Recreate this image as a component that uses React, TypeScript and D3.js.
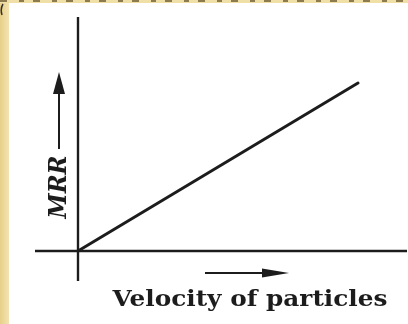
import React from "react";
import * as d3 from "d3";

// Velocity of abrasive particles vs. material removal rate
const velocity = [0, 10];
const mrr = [0, 6];
const xLabel = "Velocity of particles";
const yLabel = "MRR";

const W = 408;
const H = 324;

export default function App() {
  const x = d3.scaleLinear().domain([0, 10]).range([78, 358]);
  const y = d3.scaleLinear().domain([0, 6]).range([251, 83]);

  const pts: [number, number][] = velocity.map((v, i) => [x(v), y(mrr[i])]);
  const line = d3.line<[number, number]>()(pts) ?? "";

  const x0 = x(0);
  const y0 = y(0);
  const ink = "#1e1e1e";

  return (
    <svg
      width={W}
      height={H}
      style={{ position: "absolute", left: 0, top: 0, background: "#ffffff" }}
    >
      <defs>
        <linearGradient id="edge" x1="0" x2="1" y1="0" y2="0">
          <stop offset="0" stopColor="#e6cf88" />
          <stop offset="1" stopColor="#f4e4b2" />
        </linearGradient>
        <filter id="soft" x="-5%" y="-5%" width="110%" height="110%">
          <feGaussianBlur stdDeviation="0.55" />
        </filter>
      </defs>

      {/* page frame */}
      <rect x={0} y={0} width={W} height={H} fill="#ffffff" />
      <rect x={0} y={0} width={9} height={H} fill="url(#edge)" />
      <rect x={0} y={0} width={W} height={3} fill="#f1dfa8" />
      <line
        x1={0}
        x2={W}
        y1={1}
        y2={1}
        stroke="#6a5a30"
        strokeWidth={2}
        strokeDasharray="7 12 5 9"
        opacity={0.75}
      />
      <path d="M3,4 Q0,9 2,15" stroke="#333" strokeWidth={1.5} fill="none" />

      <g filter="url(#soft)">
        {/* axes */}
        <line x1={x0} x2={x0} y1={17} y2={281} stroke={ink} strokeWidth={2.4} />
        <line x1={35} x2={407} y1={y0} y2={y0} stroke={ink} strokeWidth={2.4} />

        {/* relation line */}
        <path d={line} stroke={ink} strokeWidth={3} fill="none" strokeLinecap="round" />

        {/* y label with arrow */}
        <line x1={59} x2={59} y1={92} y2={149} stroke={ink} strokeWidth={2} />
        <path d="M59,72 L53,94 L65,94 Z" fill={ink} />
        <text
          transform="translate(66,187) rotate(-90)"
          textAnchor="middle"
          fontFamily="DejaVu Serif"
          fontStyle="italic"
          fontWeight="bold"
          fontSize={24}
          textLength={63}
          lengthAdjust="spacingAndGlyphs"
          fill={ink}
        >
          {yLabel}
        </text>

        {/* x label with arrow */}
        <line x1={205} x2={266} y1={273} y2={273} stroke={ink} strokeWidth={2} />
        <path d="M289,273 L262,268.5 L262,277.5 Z" fill={ink} />
        <text
          x={250}
          y={306}
          textAnchor="middle"
          fontFamily="DejaVu Serif"
          fontWeight="bold"
          fontSize={23}
          textLength={275}
          lengthAdjust="spacingAndGlyphs"
          fill={ink}
        >
          {xLabel}
        </text>
      </g>
    </svg>
  );
}
